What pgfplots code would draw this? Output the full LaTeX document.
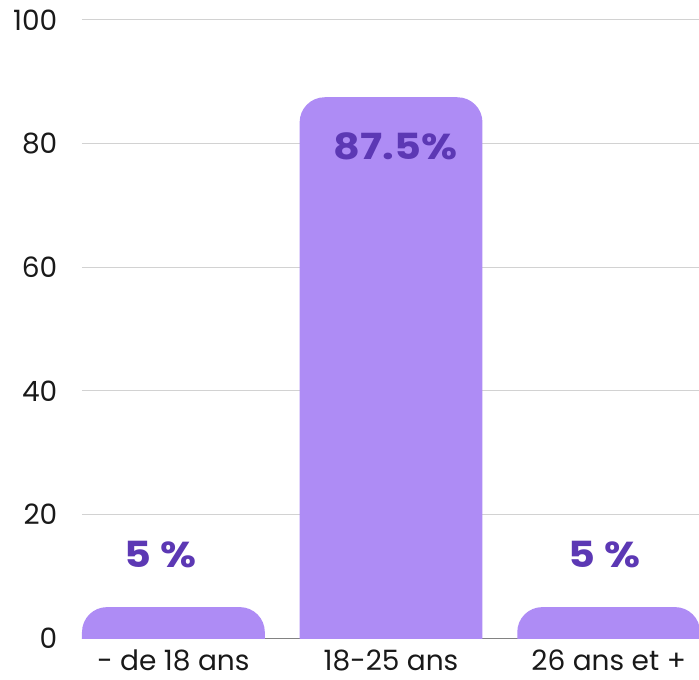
\documentclass[border=0pt]{standalone}
\usepackage{fontspec}
\setmainfont{Poppins}
\newfontfamily\labfont[FakeStretch=1.15]{Poppins}
\usepackage{pgfplots}
\pgfplotsset{compat=1.18}
\definecolor{barpurple}{RGB}{174,140,245}
\definecolor{labpurple}{RGB}{92,56,180}
\definecolor{gridgray}{RGB}{210,210,210}
\definecolor{axgray}{RGB}{130,130,130}

\pgfplotsset{
  commonaxis/.style={
    scale only axis,
    width=462.75pt,
    height=463.5pt,
    ymin=0, ymax=100,
    xmin=-0.42, xmax=2.415,
  },
  % a bar as a filled outline; its foot lies below ymin, so the clip hides the lower corners
  roundbar/.style={fill=barpurple, draw=none, mark=none, rounded corners=18.75pt},
}

\begin{document}
\begin{tikzpicture}
  % fix the page to the reference size (1px = 0.75pt)
  \useasboundingbox (-61.5pt,-30.75pt) rectangle (462.75pt,478.5pt);
  \begin{axis}[
    commonaxis,
    ytick={0,20,...,100},
    xtick={0,1,2},
    xticklabels={- de 18 ans,18-25 ans,26 ans et +},
    major tick length=0pt,
    ymajorgrids,
    grid style={draw=gridgray, line width=0.75pt},
    axis x line=bottom,
    axis y line=left,
    x axis line style={draw=axgray, line width=0.75pt, -},
    y axis line style={draw=none},
    /pgf/number format/assume math mode=true,
    ticklabel style={font=\fontsize{21}{25}\selectfont, text=black!90},
    yticklabel style={xshift=-15pt},
    xticklabel style={inner sep=0pt, text depth=0pt, yshift=-9pt},
  ]
    % - de 18 ans: 5
    \addplot[roundbar] coordinates {(-0.42,-20) (-0.42,5) (0.42,5) (0.42,-20)};
    % 18-25 ans: 87.5
    \addplot[roundbar] coordinates {(0.58,-20) (0.58,87.5) (1.42,87.5) (1.42,-20)};
    % 26 ans et +: 5
    \addplot[roundbar] coordinates {(1.58,-20) (1.58,5) (2.42,5) (2.42,-20)};
  \end{axis}
  \begin{axis}[
    commonaxis,
    hide axis,
  ]
    \addplot[draw=none, mark=none, nodes near coords, point meta=explicit symbolic,
      nodes near coords style={anchor=center, text=labpurple,
        font=\labfont\fontsize{27}{32}\selectfont\bfseries}]
      coordinates {(-0.06,13.5)[5 \%] (1.02,79.5)[87.5\%] (1.98,13.5)[5 \%]};
  \end{axis}
\end{tikzpicture}
\end{document}
